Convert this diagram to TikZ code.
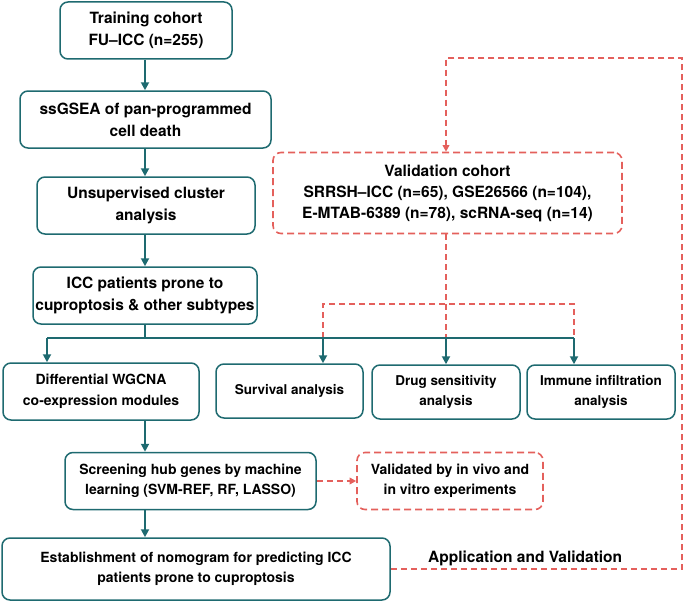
\documentclass[tikz,border=0pt]{standalone}
\usepackage{fontspec}
\setmainfont{TeX Gyre Heros}
\usetikzlibrary{arrows.meta}
\definecolor{flowteal}{HTML}{1E6A70}
\definecolor{valred}{HTML}{E4605C}
\begin{document}
\begin{tikzpicture}[x=1pt,y=-1pt]
  \tikzstyle{every node}=[align=center,inner sep=0pt,text=black]
  \tikzstyle{box}=[draw=flowteal,line width=1.5pt,rounded corners=8pt]
  \tikzstyle{dbox}=[draw=valred,line width=1.6pt,rounded corners=8pt,dash pattern=on 7pt off 4pt]
  \tikzstyle{bigtxt}=[font=\bfseries\fontsize{15.5}{22}\selectfont]
  \tikzstyle{midtxt}=[font=\bfseries\fontsize{14}{20.5}\selectfont]
  \tikzstyle{smltxt}=[font=\bfseries\fontsize{13.5}{20.5}\selectfont]
  \tikzstyle{arr}=[-{Triangle[length=8pt,width=8pt]},line width=1.9pt,draw=flowteal]
  \tikzstyle{vline}=[line width=1.8pt,draw=valred,dash pattern=on 6pt off 4pt]
  \tikzstyle{varr}=[vline,-{Triangle[length=6.5pt,width=6.5pt]}]
  \useasboundingbox (0,0) rectangle (685,602);
  % main column
  \node (tc) [box,bigtxt,minimum width=172pt,minimum height=57pt] at (146,30.5) {Training cohort\\FU–ICC (n=255)};
  \node (ss) [box,bigtxt,minimum width=251pt,minimum height=57pt] at (145.5,119.5) {ssGSEA of pan-programmed\\cell death};
  \node (uc) [box,bigtxt,minimum width=218pt,minimum height=57pt] at (146,205.5) {Unsupervised cluster\\analysis};
  \node (ic) [box,bigtxt,minimum width=224pt,minimum height=57pt] at (145,295.5) {ICC patients prone to\\cuproptosis \& other subtypes};
  \node (vc) [dbox,bigtxt,minimum width=349pt,minimum height=81pt] at (447.5,193) {Validation cohort\\[-1pt]SRRSH–ICC (n=65), GSE26566 (n=104),\\[-1pt]E-MTAB-6389 (n=78), scRNA-seq (n=14)};
  % second row
  \node (dw) [box,midtxt,minimum width=196pt,minimum height=57pt] at (101,391.5) {Differential WGCNA\\co-expression modules};
  \node (sa) [box,smltxt,minimum width=147pt,minimum height=54pt] at (289.5,391) {Survival analysis};
  \node (ds) [box,smltxt,minimum width=148pt,minimum height=54pt] at (446,392) {Drug sensitivity\\analysis};
  \node (ii) [box,smltxt,minimum width=148pt,minimum height=54pt] at (601,392) {Immune infiltration\\analysis};
  \node (sh) [box,midtxt,minimum width=251pt,minimum height=57pt] at (190.5,481) {Screening hub genes by machine\\learning (SVM-REF, RF, LASSO)};
  \node (vv) [dbox,midtxt,minimum width=186pt,minimum height=57pt] at (450,481) {Validated by in vivo and\\in vitro experiments};
  \node (en) [box,midtxt,minimum width=388pt,minimum height=62pt] at (196,569) {Establishment of nomogram for predicting ICC\\patients prone to cuproptosis};
  \node (av) [bigtxt,anchor=base west] at (428,562) {Application and Validation};
  % branching bar
  \coordinate (b1) at (47,338);
  \coordinate (b2) at (323,338);
  \coordinate (b4) at (574,338);
  \coordinate (r1) at (323,304);
  \coordinate (r2) at (574,304);
  \coordinate (lp) at (682,58);
  \draw [vline] (vc.south -| ds) -- (ds |- b1);
  \draw [vline] (b2) -- (r1) -- (r2) -- (b4);
  \draw [arr] (tc.south -| ic) -- (ss.north -| ic);
  \draw [arr] (ss.south -| ic) -- (uc.north -| ic);
  \draw [arr] (uc.south -| ic) -- (ic.north);
  \draw [line width=1.9pt,draw=flowteal] (ic.south) -- (ic.south |- b1);
  \draw [line width=1.9pt,draw=flowteal] (b1) -- (b4);
  \draw [arr] (b1) -- (b1 |- dw.north);
  \draw [arr] (b2) -- (b2 |- sa.north);
  \draw [arr] (ds.north |- b1) -- (ds.north);
  \draw [arr] (b4) -- (b4 |- ii.north);
  \draw [arr] (dw.south -| ic) -- (sh.north -| ic);
  \draw [arr] (sh.south -| ic) -- (en.north -| ic);
  \draw [varr] (sh.east) -- (vv.west);
  \draw [varr] (en.east) -| (lp) -| (vc.north -| ds);
\end{tikzpicture}
\end{document}
